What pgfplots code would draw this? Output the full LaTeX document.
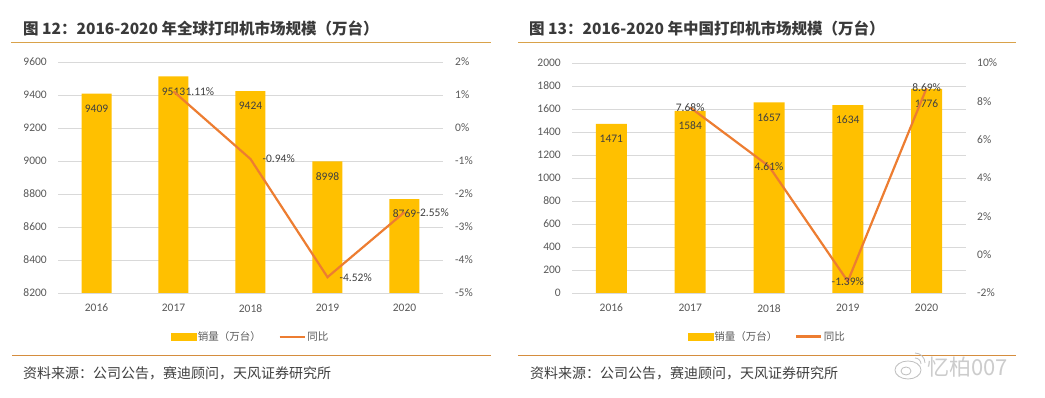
\documentclass[border=0pt]{standalone}
\usepackage{fontspec}
\setmainfont{Carlito}
\newfontfamily\cjk{Noto Sans CJK SC}
\usepackage{pgfplots}
\pgfplotsset{compat=1.18}
\definecolor{barc}{HTML}{FFC000}
\definecolor{linec}{HTML}{ED7D31}
\definecolor{gridc}{HTML}{D9D9D9}
\definecolor{tickc}{HTML}{595959}
\definecolor{labc}{HTML}{404040}
\definecolor{titlec}{HTML}{3A3A3A}
\definecolor{rulec}{HTML}{D9A24A}
\definecolor{rulecb}{HTML}{D58D3E}
\pgfplotsset{
  base/.style={scale only axis, anchor=south west, xmin=-0.5, xmax=4.5,
    axis line style={draw=none}, major tick length=0pt, tick style={draw=none},
    ticklabel style={font=\fontsize{11.5}{13}\selectfont, text=tickc, inner sep=0pt}},
  barlab/.style={point meta=explicit symbolic, nodes near coords,
    every node near coord/.style={font=\fontsize{11.5}{13}\selectfont, text=labc, anchor=center, inner sep=0pt, yshift=-15pt}},
  leg/.style={legend style={at={(#1)}, anchor=center, draw=none, fill=none, legend columns=2,
    font=\fontsize{10.5}{12}\selectfont\cjk, text=tickc,
    /tikz/every even column/.append style={column sep=16pt}, nodes={inner sep=1.5pt}}, legend cell align=left},
}
\begin{document}
\begin{tikzpicture}[x=1pt,y=1pt]
\useasboundingbox (0pt,0pt) rectangle (1045pt,398pt);
\fill[white] (0pt,0pt) rectangle (1045pt,398pt);

% ---------- left panel ----------
\begin{axis}[base, at={(58pt,105pt)}, width=385pt, height=231pt,
  ymin=8200, ymax=9600, ytick={8200,8400,8600,8800,9000,9200,9400,9600},
  yticklabels={8200,8400,8600,8800,9000,9200,9400,9600},
  ymajorgrids, grid style={gridc, line width=0.75pt},
  xtick={0,1,2,3,4}, xticklabels={2016,2017,2018,2019,2020},
  yticklabel style={xshift=-11pt}, xticklabel style={yshift=-11pt}, barlab]
\addplot[ybar, bar width=30pt, fill=barc, draw=none] coordinates
  {(0,9409)[9409] (1,9513)[9513] (2,9424)[9424] (3,8998)[8998] (4,8769)[8769]};
\end{axis}
\begin{axis}[base, at={(58pt,105pt)}, width=385pt, height=231pt,
  ymin=-5, ymax=2, axis y line*=right, axis x line=none,
  ytick={-5,-4,-3,-2,-1,0,1,2},
  yticklabels={-5\%,-4\%,-3\%,-2\%,-1\%,0\%,1\%,2\%},
  yticklabel style={xshift=12pt},
  point meta=explicit symbolic, nodes near coords,
  every node near coord/.style={font=\fontsize{11.5}{13}\selectfont, text=labc, anchor=west, inner sep=0pt, xshift=11pt},
  leg={0.5,-0.19}]
\addlegendimage{legend image code/.code={\fill[barc] (0pt,-3.5pt) rectangle (25pt,3.5pt);}}
\addlegendentry{销量（万台）}
\addplot[linec, line width=2.2pt, legend image code/.code={\draw[linec, line width=2.5pt] (0pt,0pt)--(25pt,0pt);}] coordinates
  {(1,1.11)[1.11\%] (2,-0.94)[-0.94\%] (3,-4.52)[-4.52\%] (4,-2.55)[-2.55\%]};
\addlegendentry{同比}
\end{axis}

% ---------- right panel ----------
\begin{axis}[base, at={(572pt,105pt)}, width=394pt, height=230pt,
  ymin=0, ymax=2000, ytick={0,200,400,600,800,1000,1200,1400,1600,1800,2000},
  yticklabels={0,200,400,600,800,1000,1200,1400,1600,1800,2000},
  ymajorgrids, grid style={gridc, line width=0.75pt},
  xtick={0,1,2,3,4}, xticklabels={2016,2017,2018,2019,2020},
  yticklabel style={xshift=-11pt}, xticklabel style={yshift=-11pt}, barlab]
\addplot[ybar, bar width=31pt, fill=barc, draw=none] coordinates
  {(0,1471)[1471] (1,1584)[1584] (2,1657)[1657] (3,1634)[1634] (4,1776)[1776]};
\end{axis}
\begin{axis}[base, at={(572pt,105pt)}, width=394pt, height=230pt,
  ymin=-2, ymax=10, axis y line*=right, axis x line=none,
  ytick={-2,0,2,4,6,8,10},
  yticklabels={-2\%,0\%,2\%,4\%,6\%,8\%,10\%},
  yticklabel style={xshift=11pt},
  point meta=explicit symbolic, nodes near coords,
  every node near coord/.style={font=\fontsize{11.5}{13}\selectfont, text=labc, anchor=center, inner sep=0pt},
  leg={0.495,-0.19}]
\addlegendimage{legend image code/.code={\fill[barc] (0pt,-3.5pt) rectangle (25pt,3.5pt);}}
\addlegendentry{销量（万台）}
\addplot[linec, line width=2.2pt, legend image code/.code={\draw[linec, line width=2.5pt] (0pt,0pt)--(25pt,0pt);}] coordinates
  {(1,7.68)[7.68\%] (2,4.61)[4.61\%] (3,-1.39)[-1.39\%] (4,8.69)[8.69\%]};
\addlegendentry{同比}
\end{axis}

% ---------- titles, rules, sources ----------
\node[anchor=west, inner sep=0pt, text=titlec, font=\fontsize{15.5}{18}\selectfont\cjk\bfseries] at (23pt,370pt) {图 12：2016-2020 年全球打印机市场规模（万台）};
\node[anchor=west, inner sep=0pt, text=titlec, font=\fontsize{15.5}{18}\selectfont\cjk\bfseries] at (529pt,370pt) {图 13：2016-2020 年中国打印机市场规模（万台）};
\draw[rulec, line width=1pt] (11pt,355pt) -- (491pt,355pt);
\draw[rulec, line width=1pt] (518pt,355pt) -- (1016pt,355pt);
\draw[rulecb, line width=1pt] (12pt,42pt) -- (491pt,42pt);
\draw[rulecb, line width=1pt] (518pt,42pt) -- (1016pt,42pt);
\node[anchor=west, inner sep=0pt, text=labc, font=\fontsize{14}{16}\selectfont\cjk] at (23pt,25pt) {资料来源：公司公告，赛迪顾问，天风证券研究所};
\node[anchor=west, inner sep=0pt, text=labc, font=\fontsize{14}{16}\selectfont\cjk] at (530pt,25pt) {资料来源：公司公告，赛迪顾问，天风证券研究所};
% watermark
\draw[gray!50, line width=0.8pt] (908pt,28pt) ellipse (13pt and 9pt);
\draw[gray!50, line width=0.8pt] (906pt,27pt) ellipse (5pt and 4pt);
\draw[gray!50, line width=0.8pt] (915pt,40pt) arc (90:0:6pt);
\draw[gray!50, line width=0.8pt] (915pt,45pt) arc (90:0:10pt);
\node[anchor=west, inner sep=0pt, text=gray!40, font=\fontsize{22}{24}\selectfont\cjk] at (927pt,31pt) {忆柏007};
\end{tikzpicture}
\end{document}
